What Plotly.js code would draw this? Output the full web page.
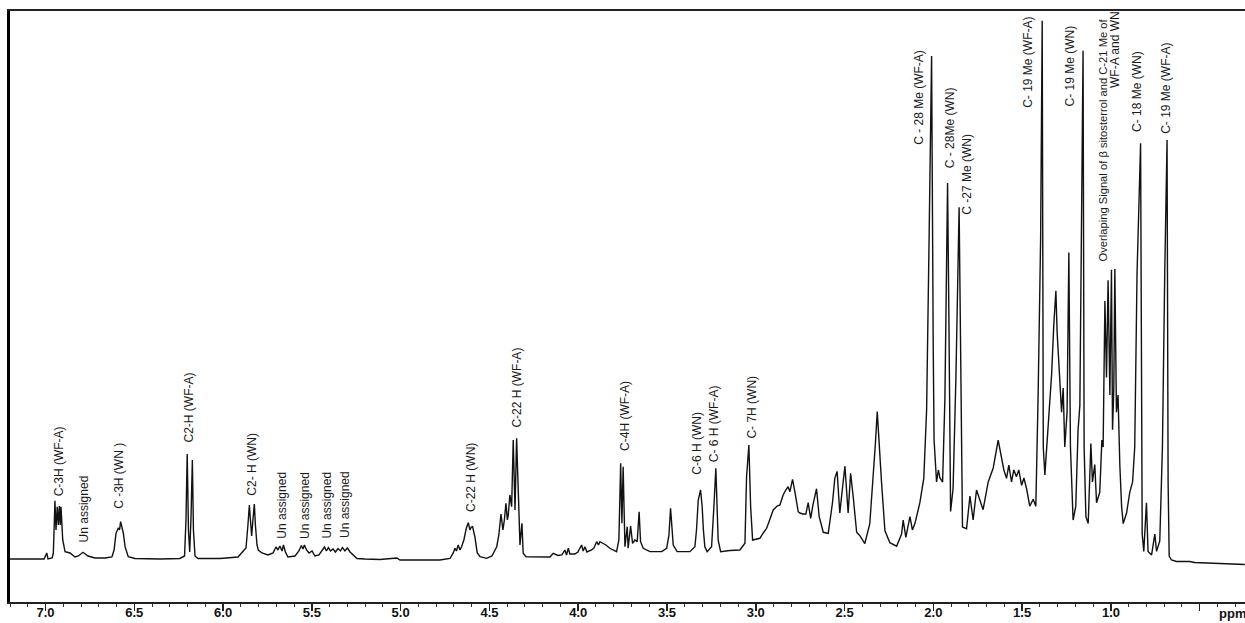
<!DOCTYPE html>
<html>
<head>
<meta charset="utf-8">
<script src="https://cdn.plot.ly/plotly-3.0.1.min.js"></script>
<style>
html,body{margin:0;padding:0;background:#fff;}
#chart{width:1245px;height:623px;}
</style>
</head>
<body>
<div id="chart"></div>
<script>
// Chemical shift (ppm)
const ppm = [
7.200,7.087,7.008,6.993,6.986,6.963,6.956,6.950,6.947,6.941,
6.934,6.928,6.922,6.917,6.913,6.903,6.890,6.862,6.834,6.815,
6.789,6.761,6.721,6.665,6.626,6.614,6.603,6.590,6.583,6.577,
6.569,6.562,6.552,6.534,6.496,6.355,6.243,6.217,6.209,6.202,
6.195,6.188,6.181,6.173,6.167,6.158,6.141,6.017,5.916,5.888,
5.871,5.860,5.852,5.846,5.839,5.832,5.824,5.818,5.809,5.802,
5.781,5.747,5.719,5.702,5.691,5.680,5.668,5.660,5.649,5.635,
5.595,5.573,5.559,5.550,5.542,5.530,5.516,5.499,5.483,5.460,
5.443,5.429,5.418,5.407,5.395,5.381,5.367,5.353,5.339,5.328,
5.314,5.300,5.285,5.269,5.246,5.201,5.117,5.021,5.004,4.891,
4.779,4.722,4.704,4.694,4.686,4.676,4.666,4.657,4.644,4.630,
4.619,4.610,4.602,4.595,4.587,4.582,4.569,4.553,4.516,4.486,
4.459,4.447,4.435,4.424,4.416,4.407,4.399,4.394,4.385,4.375,
4.366,4.356,4.347,4.336,4.328,4.317,4.310,4.294,4.244,4.159,
4.141,4.114,4.092,4.075,4.066,4.056,4.047,4.019,4.002,3.981,
3.972,3.962,3.951,3.925,3.912,3.896,3.886,3.878,3.844,3.822,
3.784,3.771,3.761,3.754,3.747,3.737,3.724,3.719,3.705,3.694,
3.681,3.668,3.657,3.649,3.634,3.596,3.530,3.502,3.489,3.480,
3.465,3.443,3.371,3.353,3.343,3.334,3.324,3.311,3.302,3.295,
3.287,3.274,3.249,3.236,3.225,3.212,3.198,3.146,3.090,3.061,
3.052,3.039,3.029,3.018,3.000,2.977,2.958,2.939,2.926,2.911,
2.902,2.892,2.880,2.864,2.846,2.831,2.818,2.808,2.793,2.780,
2.761,2.752,2.735,2.718,2.705,2.691,2.678,2.658,2.643,2.620,
2.592,2.568,2.555,2.542,2.527,2.513,2.498,2.480,2.466,2.452,
2.432,2.414,2.386,2.358,2.339,2.327,2.316,2.305,2.292,2.273,
2.245,2.207,2.179,2.170,2.155,2.132,2.118,2.104,2.076,2.054,
2.038,2.024,2.010,2.001,1.996,1.982,1.972,1.963,1.948,1.935,
1.920,1.913,1.903,1.889,1.873,1.855,1.847,1.836,1.813,1.794,
1.776,1.757,1.738,1.720,1.691,1.663,1.635,1.616,1.603,1.588,
1.575,1.560,1.547,1.532,1.519,1.503,1.490,1.475,1.457,1.438,
1.423,1.410,1.396,1.387,1.381,1.372,1.354,1.334,1.322,1.310,
1.303,1.288,1.278,1.269,1.260,1.247,1.237,1.228,1.213,1.198,
1.185,1.175,1.157,1.151,1.141,1.128,1.113,1.104,1.091,1.081,
1.063,1.051,1.044,1.034,1.025,1.016,1.006,0.997,0.991,0.984,
0.978,0.969,0.960,0.950,0.940,0.931,0.912,0.894,0.878,0.866,
0.853,0.833,0.824,0.815,0.800,0.791,0.771,0.753,0.743,0.725,
0.710,0.697,0.684,0.678,0.672,0.659,0.631,0.556,0.528,0.246
];

// Signal intensity (arbitrary units, tallest peak = 100)
const intensity = [
0.19,0.19,0.19,1.30,0.19,0.37,1.24,7.41,10.98,5.56,
9.87,6.48,10.00,6.48,9.87,3.70,1.54,1.30,0.56,0.74,
1.43,0.74,0.37,0.37,0.56,1.85,4.94,5.93,5.56,7.09,
6.11,5.00,2.46,0.61,0.28,0.19,0.28,0.74,7.41,19.63,
5.56,1.48,7.41,18.52,5.56,0.74,0.28,0.28,0.56,1.48,
2.22,6.48,10.19,7.41,4.44,7.41,10.37,6.48,2.78,1.85,
1.30,0.93,1.30,2.41,1.85,2.59,1.67,2.78,1.48,0.56,
0.74,1.67,2.69,2.04,2.78,1.85,1.30,1.67,0.74,0.93,
1.85,2.41,1.67,2.31,1.67,2.04,1.48,2.13,1.67,2.31,
1.67,2.22,1.48,0.93,0.28,0.19,0.09,0.37,0.00,0.00,
0.00,0.28,1.30,2.17,1.67,2.78,1.85,2.46,3.70,5.93,
6.91,5.56,6.11,6.17,5.00,4.31,1.35,0.61,0.31,0.74,
2.46,4.63,8.52,5.56,7.41,10.50,7.41,8.33,12.04,9.87,
22.22,9.26,22.54,8.02,2.78,6.80,1.24,0.61,0.56,0.56,
1.24,0.83,0.93,1.85,0.93,2.17,1.11,1.11,1.48,2.78,
1.67,2.46,1.48,1.85,2.22,3.39,2.78,3.39,2.78,2.17,
1.54,3.70,17.91,6.80,17.28,2.46,6.17,2.17,6.30,3.09,
3.70,3.39,8.94,3.39,2.17,1.54,1.54,2.17,4.63,9.57,
2.78,1.54,1.54,2.04,2.46,5.56,11.11,12.96,9.87,5.56,
2.46,1.54,2.46,9.87,16.98,3.70,1.54,1.76,1.85,3.09,
15.43,21.30,9.87,3.70,3.89,4.02,5.00,5.87,7.04,8.65,
9.26,9.57,10.00,10.19,12.04,12.96,13.57,12.65,14.94,12.65,
8.94,8.70,8.52,8.52,10.61,7.70,10.19,13.19,8.04,5.13,
4.94,10.61,15.11,16.41,8.69,12.96,17.37,8.69,16.07,11.89,
5.13,4.50,3.02,6.74,15.11,21.30,27.48,20.91,14.46,5.46,
3.20,2.56,4.81,7.39,4.17,8.04,5.56,6.74,10.61,15.11,
27.78,59.54,93.33,40.22,22.22,14.44,16.67,15.19,14.44,29.93,
69.81,46.67,9.00,13.19,33.78,65.31,40.22,6.11,5.78,11.85,
7.41,12.96,11.11,9.31,14.46,17.04,22.19,18.98,16.67,15.11,
17.59,14.46,16.67,15.44,16.67,13.83,15.19,13.19,9.96,11.26,
9.96,30.56,59.54,99.87,20.91,15.76,25.41,34.43,43.44,49.87,
42.15,33.78,27.35,31.85,20.91,27.35,56.94,20.91,7.39,9.96,
24.13,28.63,94.31,20.91,8.04,6.74,21.56,14.46,17.69,10.61,
12.54,22.22,20.91,47.94,33.78,51.80,30.56,53.74,24.13,31.48,
53.87,27.35,30.56,17.69,9.96,6.74,8.69,12.54,14.46,20.91,
53.09,77.17,4.81,1.59,10.61,1.59,0.94,4.81,1.59,3.52,
20.91,53.09,77.78,14.46,0.74,0.00,-0.28,-0.28,-0.46,-0.83
];

// Peak assignment labels
const labelText = [
"C-3H (WF-A)","Un assigned","C -3H (WN )","C2-H (WF-A)","C2- H (WN)",
"Un assigned","Un assigned","Un assigned","Un assigned",
"C-22 H (WN)","C-22 H (WF-A)","C-4H (WF-A)","C-6 H (WN)","C- 6 H (WF-A)","C- 7H (WN)",
"C - 28 Me (WF-A)","C - 28Me (WN)","C -27 Me (WN)","C- 19 Me (WF-A)","C- 19 Me (WN)",
"Overlaping Signal of β sitosterrol and C-21 Me of","WF-A and WN",
"C- 18 Me (WN)","C- 19 Me (WF-A)"
];
const labelPpm = [
6.922,6.778,6.584,6.192,5.839,
5.670,5.539,5.417,5.313,
4.604,4.347,3.737,3.333,3.231,3.024,
2.082,1.908,1.812,1.468,1.231,
1.047,0.978,
0.853,0.691
];
const labelLevel = [
18.33,9.54,15.65,28.24,17.78,
10.19,10.19,10.19,10.19,
15.37,31.85,26.67,21.67,25.28,28.33,
85.74,80.09,71.48,92.22,91.57,
77.80,94.60,
86.67,87.40
];

const tickVals = [7.0,6.5,6.0,5.5,5.0,4.5,4.0,3.5,3.0,2.5,2.0,1.5,1.0,0.5];
const tickText = ["7.0","6.5","6.0","5.5","5.0","4.5","4.0","3.5","3.0","2.5","2.0","1.5","1.0",""];

const trace = {
  x: ppm, y: intensity, type: 'scatter', mode: 'lines',
  line: {color: '#111111', width: 1.4, shape: 'linear'},
  hoverinfo: 'skip'
};

const annotations = labelText.map((t, i) => ({
  x: labelPpm[i], y: labelLevel[i], xref: 'x', yref: 'y',
  text: t, showarrow: false, textangle: -90,
  xanchor: 'center', yanchor: 'middle',
  font: {family: 'Liberation Sans, Arial, sans-serif', size: (t.length > 20 ? 11.2 : 12), color: '#1a1a1a'}
}));
annotations.push({
  x: 0.99, y: -0.019, xref: 'paper', yref: 'paper',
  text: 'ppm', showarrow: false, xanchor: 'center', yanchor: 'middle',
  font: {family: 'Liberation Sans, Arial, sans-serif', size: 13, color: '#111', weight: 'bold'}
});

const layout = {
  width: 1245, height: 623,
  margin: {l: 10, r: 0, t: 11, b: 21, pad: 0},
  paper_bgcolor: '#ffffff', plot_bgcolor: '#ffffff',
  showlegend: false,
  xaxis: {
    range: [7.2, 0.245], autorange: false,
    showgrid: false, zeroline: false,
    showline: true, linecolor: '#222', linewidth: 1.6, mirror: true,
    tickmode: 'array', tickvals: tickVals, ticktext: tickText,
    ticks: 'outside', ticklen: 7, tickwidth: 1.5, tickcolor: '#222',
    ticklabelstandoff: -9,
    minor: {dtick: 0.1, tick0: 0, ticks: 'outside', ticklen: 3, tickwidth: 1, tickcolor: '#333', showgrid: false},
    tickfont: {family: 'Liberation Sans, Arial, sans-serif', size: 13, color: '#111', weight: 'bold'}
  },
  yaxis: {
    range: [-7.78, 101.67], autorange: false,
    showgrid: false, zeroline: false,
    showline: true, linecolor: '#000', linewidth: 3,
    showticklabels: false, ticks: ''
  },
  annotations: annotations
};

Plotly.newPlot('chart', [trace], layout, {displayModeBar: false, staticPlot: true});
</script>
</body>
</html>
